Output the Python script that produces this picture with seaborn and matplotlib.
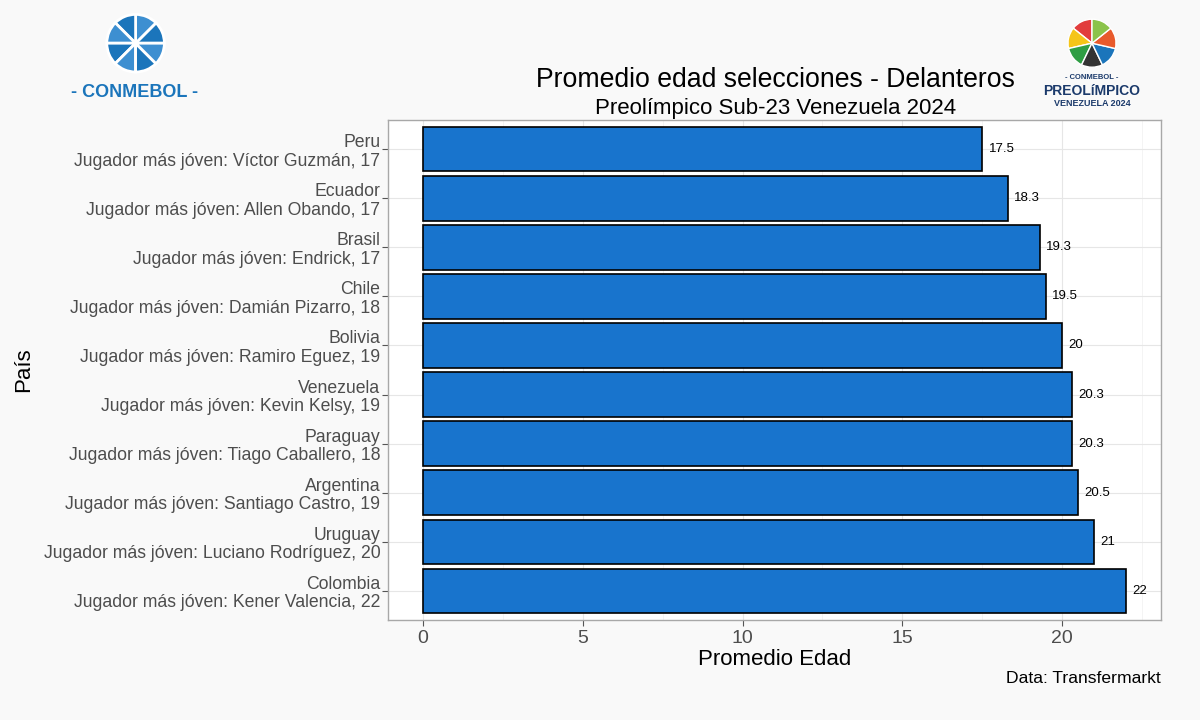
import pandas as pd
import numpy as np
import matplotlib.pyplot as plt
import seaborn as sns

paises = ["Peru", "Ecuador", "Brasil", "Chile", "Bolivia",
          "Venezuela", "Paraguay", "Argentina", "Uruguay", "Colombia"]
jugadores = ["Víctor Guzmán", "Allen Obando", "Endrick", "Damián Pizarro",
             "Ramiro Eguez", "Kevin Kelsy", "Tiago Caballero",
             "Santiago Castro", "Luciano Rodríguez", "Kener Valencia"]
edad_jugador = [17, 17, 17, 18, 19, 19, 18, 19, 20, 22]
promedio = [17.5, 18.3, 19.3, 19.5, 20, 20.3, 20.3, 20.5, 21, 22]

df = pd.DataFrame({
    "pais": paises,
    "jugador": jugadores,
    "edad": edad_jugador,
    "promedio": promedio,
})
df["etiqueta"] = [
    f"{p}\nJugador más jóven: {j}, {e}"
    for p, j, e in zip(df["pais"], df["jugador"], df["edad"])
]

sns.set_style("whitegrid")
plt.rcParams["font.family"] = ["Liberation Sans", "DejaVu Sans"]

fig = plt.figure(figsize=(12, 7.2), dpi=100)
fig.patch.set_facecolor("#F9F9F9")
ax = fig.add_axes([0.3233, 0.1389, 0.6442, 0.6944])

sns.barplot(
    data=df,
    x="promedio",
    y="etiqueta",
    orient="h",
    color="#1874CD",
    saturation=1,
    edgecolor="black",
    linewidth=1.2,
    width=0.9,
    ax=ax,
)

for i, v in enumerate(df["promedio"]):
    txt = f"{v:g}"
    ax.text(v + 0.2, i, txt, va="center", ha="left", fontsize=9.5, color="black")

ax.set_xlim(-1.1, 23.1)
ax.set_ylim(9.6, -0.6)
ax.set_xticks([0, 5, 10, 15, 20])
ax.set_xticks([2.5, 7.5, 12.5, 17.5, 22.5], minor=True)
ax.grid(True, which="major", color="#E6E6E6", linewidth=0.8)
ax.grid(True, which="minor", axis="x", color="#F2F2F2", linewidth=0.6)
ax.set_axisbelow(True)
ax.set_facecolor("white")
for s in ax.spines.values():
    s.set_color("#A8A8A8")
    s.set_linewidth(1)

ax.tick_params(axis="both", which="major", length=4, color="#555555",
               labelcolor="#4D4D4D", labelsize=14, left=True, bottom=True)
ax.tick_params(axis="x", which="minor", length=0)
ax.tick_params(axis="y", labelsize=12.7, pad=1.5)
for lbl in ax.get_yticklabels():
    lbl.set_linespacing(1.1)

ax.set_xlabel("Promedio Edad", fontsize=16, color="black", labelpad=1)
ax.set_ylabel("País", fontsize=16, color="black")
ax.yaxis.set_label_coords(-0.458, 0.5)

fig.text(0.646, 0.889, "Promedio edad selecciones - Delanteros",
         ha="center", va="center", fontsize=19.2, color="black")
fig.text(0.646, 0.849, "Preolímpico Sub-23 Venezuela 2024",
         ha="center", va="center", fontsize=16, color="black")
fig.text(0.9675, 0.058, "Data: Transfermarkt",
         ha="right", va="center", fontsize=12.6, color="black")

# logos (approximation)
fig.text(0.1125, 0.872, "- CONMEBOL -", ha="center", va="center",
         fontsize=13, fontweight="bold", color="#1B75BB")
logo1 = fig.add_axes([0.083, 0.89, 0.06, 0.1])
logo1.pie([1] * 8, colors=["#1B75BB", "#3D8FD1"] * 4, radius=1,
          wedgeprops={"edgecolor": "white", "linewidth": 2})
logo1.set_aspect("equal")

logo2 = fig.add_axes([0.885, 0.895, 0.05, 0.09])
logo2.pie([1] * 7, colors=["#E23D3D", "#F5C518", "#2F9E44", "#333333",
                           "#1B75BB", "#E85A2C", "#8BC34A"],
          startangle=90, wedgeprops={"edgecolor": "white", "linewidth": 1})
logo2.set_aspect("equal")
fig.text(0.91, 0.893, "- CONMEBOL -", ha="center", va="center",
         fontsize=5.5, fontweight="bold", color="#1B3A6B")
fig.text(0.91, 0.874, "PREOLíMPICO", ha="center", va="center",
         fontsize=10, fontweight="bold", color="#1B3A6B")
fig.text(0.91, 0.856, "VENEZUELA 2024", ha="center", va="center",
         fontsize=6.5, fontweight="bold", color="#1B3A6B")

fig.savefig("out.png", dpi=100, facecolor=fig.get_facecolor())
